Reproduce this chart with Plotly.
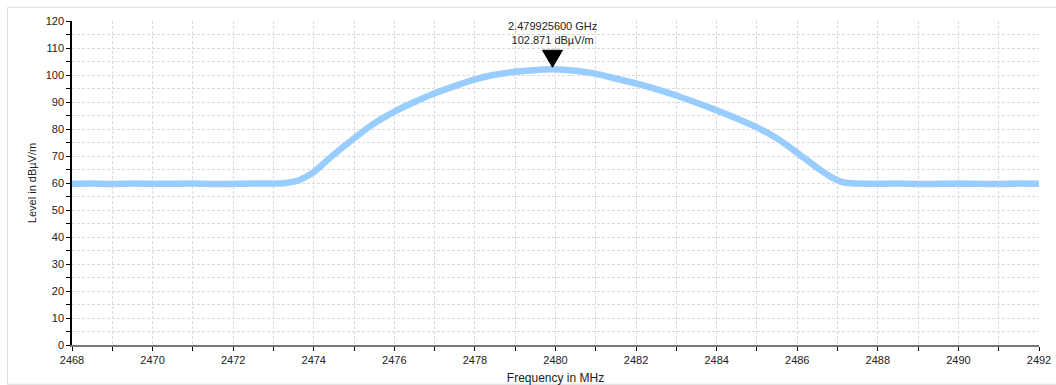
import plotly.graph_objects as go

# ---- data ----
freq_mhz = [
    2468.0, 2468.5, 2469.0, 2469.5, 2470.0, 2470.5, 2471.0, 2471.5, 2472.0, 2472.5,
    2473.0, 2473.3, 2473.66, 2474.0, 2474.4, 2474.98, 2475.48, 2475.97, 2476.47,
    2476.96, 2477.46, 2477.96, 2478.45, 2478.95, 2479.45, 2479.93, 2480.5, 2480.98,
    2481.52, 2482.02, 2482.5, 2483.0, 2483.5, 2484.0, 2484.5, 2485.0, 2485.5,
    2486.0, 2486.5, 2486.9, 2487.15, 2487.5, 2488.0, 2488.5, 2489.0, 2489.5,
    2490.0, 2490.5, 2491.0, 2491.5, 2492.0,
]
level_dbuv = [
    59.7, 59.8, 59.6, 59.8, 59.7, 59.7, 59.8, 59.6, 59.7, 59.8,
    59.8, 60.0, 61.2, 64.0, 69.3, 76.3, 81.9, 86.2, 89.8,
    93.0, 95.7, 98.2, 100.0, 101.1, 101.8, 102.1, 101.6, 100.5,
    98.6, 96.8, 94.8, 92.4, 89.7, 86.9, 83.9, 80.6, 76.5,
    71.2, 65.6, 61.7, 60.2, 59.8, 59.7, 59.8, 59.6, 59.7,
    59.8, 59.7, 59.6, 59.8, 59.7,
]
peak_freq = 2479.9256
peak_level = 102.871
peak_labels = ["2.479925600 GHz", "102.871 dBµV/m"]

x_ticks = [2468, 2470, 2472, 2474, 2476, 2478, 2480, 2482, 2484, 2486, 2488, 2490, 2492]
y_ticks = [0, 10, 20, 30, 40, 50, 60, 70, 80, 90, 100, 110, 120]

FONT = "Liberation Sans, Arial, sans-serif"
GRID = "#dadada"
DASH = "3px,2px"

fig = go.Figure()
fig.add_trace(go.Scatter(
    x=freq_mhz, y=level_dbuv, mode="lines",
    line=dict(color="#99CCFF", width=6.5, shape="spline", smoothing=0.6),
    hoverinfo="skip", showlegend=False,
))

# peak marker (triangle pointing down to the peak, sized in pixels)
fig.add_shape(
    type="path", xref="x", yref="y", xsizemode="pixel", ysizemode="pixel",
    xanchor=peak_freq, yanchor=peak_level,
    path="M -10,17 L 10,17 L 0,0 Z",
    fillcolor="black", line=dict(color="black", width=1),
)
fig.add_annotation(
    x=peak_freq, y=peak_level, xref="x", yref="y",
    text="<br>".join(peak_labels), showarrow=False,
    yanchor="bottom", yshift=19, font=dict(family=FONT, size=11, color="#222"),
)

# outer light frame (page pixels: left 7, top 7, bottom 384)
fig.add_shape(
    type="rect", xref="paper", yref="paper",
    x0=-0.0667, x1=1.03, y0=-0.1213, y1=1.0423,
    line=dict(color="#dcdcdc", width=1), fillcolor="rgba(0,0,0,0)", layer="below",
)

fig.update_layout(
    width=1056, height=385,
    margin=dict(l=72, r=17, t=21, b=40, autoexpand=False),
    paper_bgcolor="white", plot_bgcolor="white",
    font=dict(family=FONT, size=11, color="#222"),
    showlegend=False,
)
fig.update_xaxes(
    range=[2468, 2492], tickvals=x_ticks, ticktext=[str(v) for v in x_ticks],
    automargin=False,
    showline=True, linecolor="#777", linewidth=2,
    ticks="outside", ticklen=4, tickcolor="black", tickwidth=1,
    showgrid=True, gridcolor=GRID, griddash=DASH, gridwidth=1,
    minor=dict(dtick=1, tick0=2468, showgrid=True, gridcolor=GRID, griddash=DASH,
               ticks="outside", ticklen=4, tickcolor="black"),
    zeroline=False,
    title=dict(text="Frequency in MHz", font=dict(size=12), standoff=9),
    tickfont=dict(size=11),
)
fig.update_yaxes(
    range=[0, 120], tickvals=y_ticks,
    automargin=False,
    showline=True, linecolor="black", linewidth=1.5,
    ticks="outside", ticklen=4, tickcolor="black", tickwidth=1,
    showgrid=True, gridcolor=GRID, griddash=DASH, gridwidth=1,
    minor=dict(dtick=5, tick0=0, showgrid=True, gridcolor=GRID, griddash=DASH,
               ticks="outside", ticklen=4, tickcolor="black"),
    zeroline=False,
    title=dict(text="Level in dBµV/m", font=dict(size=11), standoff=7),
    tickfont=dict(size=11),
)

fig.write_html(
    "out.html",
    config={"displayModeBar": False},
    post_script="document.body.style.margin='0';document.body.style.overflow='hidden';",
)
